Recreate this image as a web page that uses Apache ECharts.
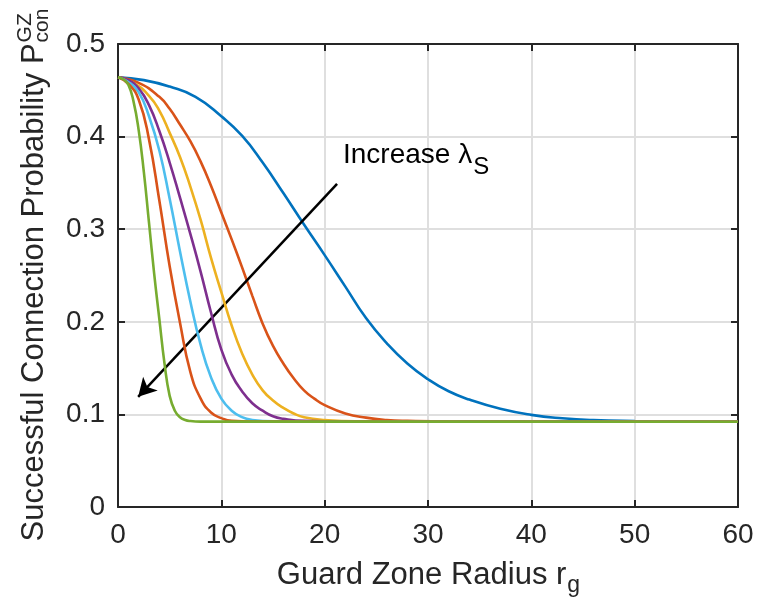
<!DOCTYPE html>
<html><head><meta charset="utf-8">
<script src="https://cdn.jsdelivr.net/npm/echarts@6/dist/echarts.min.js"></script>
<style>html,body{margin:0;padding:0;background:#fff}#c{width:757px;height:608px}</style>
</head><body><div id="c"></div>
<script>
// ---- data (x = guard zone radius r_g, y = probability) ----
const xTickValues = [0, 10, 20, 30, 40, 50, 60];
const yTickValues = [0, 0.1, 0.2, 0.3, 0.4, 0.5];

const blueCurve = [[0,0.464],[2.5,0.461],[5,0.454],[7.5,0.443],[10,0.422],[12,0.401],[14,0.372],[16,0.339],[18,0.305],[20,0.272],[22,0.238],[24,0.204],[26,0.177],[28,0.155],[30,0.138],[32,0.125],[34,0.116],[37,0.106],[40,0.0995],[43,0.0958],[46,0.0938],[50,0.0928],[55,0.0923],[60,0.0921]];
const orangeCurve = [[0,0.464],[2,0.458],[4,0.443],[5,0.430],[6,0.413],[7,0.395],[8,0.373],[9,0.347],[10,0.318],[11,0.289],[12,0.259],[13,0.228],[14,0.198],[15,0.174],[16,0.155],[17,0.139],[18,0.126],[19,0.117],[20,0.110],[22,0.101],[24,0.0965],[26,0.094],[28,0.093],[32,0.0923],[60,0.0921]];
const yellowCurve = [[0,0.464],[1.5,0.458],[3,0.444],[4,0.428],[5,0.404],[6,0.378],[7,0.346],[8,0.310],[9,0.269],[10,0.232],[11,0.196],[12,0.166],[13,0.143],[14,0.126],[15,0.115],[16,0.107],[17,0.101],[18,0.097],[20,0.094],[23,0.0925],[60,0.0921]];
const purpleCurve = [[0,0.464],[1,0.461],[2,0.452],[3,0.434],[4,0.406],[5,0.372],[6,0.334],[7,0.295],[8,0.254],[9,0.210],[10,0.170],[11,0.143],[12,0.125],[13,0.112],[14,0.104],[15,0.098],[16,0.0953],[18,0.093],[22,0.0923],[60,0.0921]];
const cyanCurve = [[0,0.464],[1,0.459],[2,0.448],[3,0.422],[4,0.385],[5,0.333],[6,0.276],[7,0.222],[8,0.175],[9,0.140],[10,0.117],[11,0.104],[12,0.097],[13,0.094],[15,0.0925],[60,0.0921]];
const redCurve = [[0,0.464],[1,0.457],[2,0.440],[3,0.397],[4,0.331],[5,0.260],[6,0.199],[7,0.146],[8,0.117],[9,0.102],[10,0.096],[11,0.093],[13,0.0922],[60,0.0921]];
const greenCurve = [[0,0.464],[0.5,0.462],[1,0.456],[1.5,0.438],[2,0.407],[2.5,0.362],[3,0.307],[3.5,0.252],[4,0.203],[4.5,0.155],[5,0.120],[5.5,0.104],[6,0.097],[6.5,0.094],[7,0.0928],[8,0.0922],[60,0.0921]];

const curves = [blueCurve, orangeCurve, yellowCurve, purpleCurve, cyanCurve, redCurve, greenCurve];
const curveColors = ['#0072BD', '#D95319', '#EDB120', '#7E2F8E', '#4DBEEE', '#D95319', '#77AC30'];

const arrowFrom = [21.2, 0.349];
const arrowTo = [1.95, 0.119];

const xTitle = 'Guard Zone Radius r', xTitleSub = 'g';
const yTitle = 'Successful Connection Probability P', yTitleSup = 'GZ', yTitleSub = 'con';
const noteText = 'Increase \u03bb', noteSub = 'S';

// ---- rendering ----
const FONT = '"Liberation Sans", Arial, Helvetica, sans-serif';
const AX = '#262626';
const mctx = document.createElement('canvas').getContext('2d');
function textW(t, size) { mctx.font = size + 'px ' + FONT; return mctx.measureText(t).width; }

const G = { left: 118, right: 19, top: 44, bottom: 101 };
const plotCx = G.left + (757 - G.left - G.right) / 2;
const plotCy = G.top + (608 - G.top - G.bottom) / 2;

const chart = echarts.init(document.getElementById('c'), null, { renderer: 'canvas' });

function axisBase() {
  return {
    type: 'value',
    axisLine: { show: true, onZero: false, lineStyle: { color: AX, width: 2 } },
    axisTick: { show: true, inside: true, length: 7, lineStyle: { color: AX, width: 2 } },
  };
}

const series = curves.map((c, i) => ({
  type: 'line', data: c, showSymbol: false, smooth: 0.5,
  lineStyle: { color: curveColors[i], width: 2.6 }, itemStyle: { color: curveColors[i] },
  silent: true, z: 3 + i
}));
series.push({
  type: 'line', data: [], silent: true, z: 20,
  markLine: {
    silent: true, animation: false, symbol: ['none', 'arrow'], symbolSize: [15, 18],
    label: { show: false },
    lineStyle: { color: '#000', width: 2.5, type: 'solid' },
    data: [[{ coord: arrowFrom }, { coord: arrowTo }]]
  }
});

const fsTitle = 31, fsScript = 21, fsNote = 28, fsNoteSub = 24;
const xw = textW(xTitle, fsTitle), xsw = textW(xTitleSub, 23);
const xStart = plotCx - (xw + xsw) / 2;
const xBase = 586;
const yw = textW(yTitle, fsTitle), ysw = Math.max(textW(yTitleSup, fsScript), textW(yTitleSub, fsScript));
const yStart = plotCy + (yw + ysw) / 2;
const yBase = 45;
const mid = 0.3465;
const noteX = 343, noteBase = 165;
const nw = textW(noteText, fsNote);

chart.setOption({
  animation: false,
  backgroundColor: '#fff',
  grid: G,
  xAxis: [
    Object.assign(axisBase(), {
      position: 'bottom', min: 0, max: 60, interval: 10,
      axisLabel: { show: true, fontSize: 28, color: AX, fontFamily: FONT, margin: 14 },
      splitLine: { show: true, lineStyle: { color: '#dfdfdf', width: 2 } }
    }),
    Object.assign(axisBase(), {
      position: 'top', min: 0, max: 60, interval: 10,
      axisLabel: { show: false }, splitLine: { show: false }
    })
  ],
  yAxis: [
    Object.assign(axisBase(), {
      position: 'left', min: 0, max: 0.5, interval: 0.1,
      axisLabel: { show: true, fontSize: 28, color: AX, fontFamily: FONT, margin: 13,
        formatter: v => String(+v.toFixed(1)) },
      splitLine: { show: true, lineStyle: { color: '#dfdfdf', width: 2 } }
    }),
    Object.assign(axisBase(), {
      position: 'right', min: 0, max: 0.5, interval: 0.1,
      axisLabel: { show: false }, splitLine: { show: false }
    })
  ],
  series: series,
  graphic: [
    { type: 'text', x: xStart, y: xBase - mid * fsTitle, silent: true,
      style: { text: xTitle, font: fsTitle + 'px ' + FONT, fill: AX, align: 'left', verticalAlign: 'middle' } },
    { type: 'text', x: xStart + xw + 1, y: xBase + 8 - mid * 23, silent: true,
      style: { text: xTitleSub, font: '23px ' + FONT, fill: AX, align: 'left', verticalAlign: 'middle' } },
    { type: 'group', x: yBase, y: yStart, rotation: Math.PI / 2, silent: true, children: [
      { type: 'text', x: 0, y: -mid * fsTitle,
        style: { text: yTitle, font: fsTitle + 'px ' + FONT, fill: AX, align: 'left', verticalAlign: 'middle' } },
      { type: 'text', x: yw + 1, y: -13 - mid * fsScript,
        style: { text: yTitleSup, font: fsScript + 'px ' + FONT, fill: AX, align: 'left', verticalAlign: 'middle' } },
      { type: 'text', x: yw + 1, y: 4 - mid * fsScript,
        style: { text: yTitleSub, font: fsScript + 'px ' + FONT, fill: AX, align: 'left', verticalAlign: 'middle' } }
    ] },
    { type: 'text', x: noteX, y: noteBase - mid * fsNote, silent: true, z: 30,
      style: { text: noteText, font: fsNote + 'px ' + FONT, fill: '#000', align: 'left', verticalAlign: 'middle' } },
    { type: 'text', x: noteX + nw + 1, y: noteBase + 11 - mid * fsNoteSub, silent: true, z: 30,
      style: { text: noteSub, font: fsNoteSub + 'px ' + FONT, fill: '#000', align: 'left', verticalAlign: 'middle' } }
  ]
});
</script></body></html>
